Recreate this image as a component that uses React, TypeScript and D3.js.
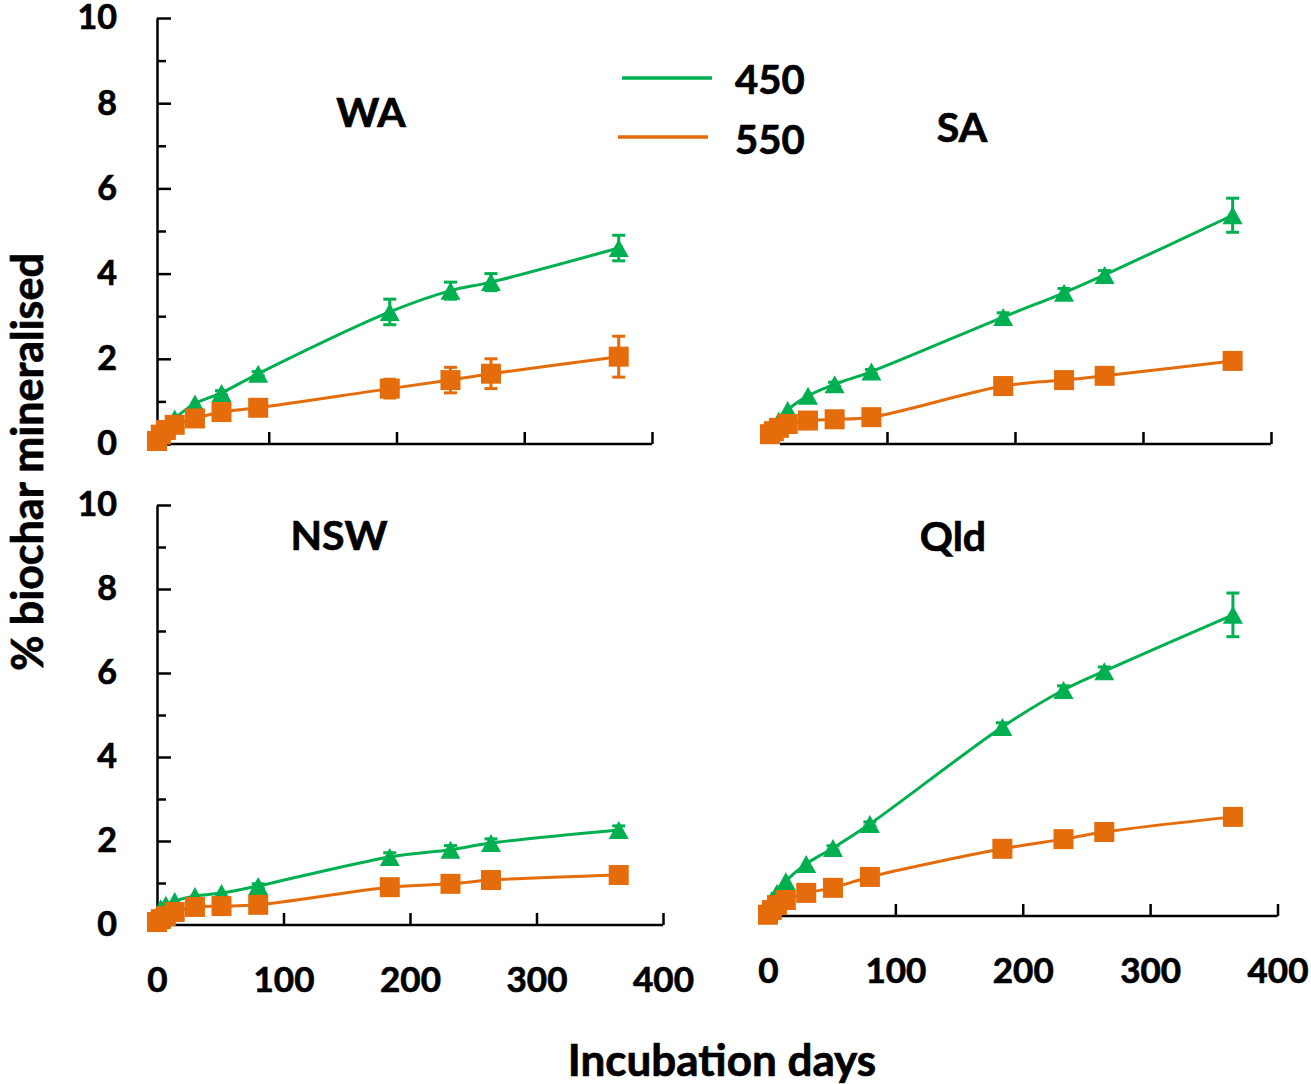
import React, { useRef, useEffect } from "react";
import * as d3 from "d3";

// incubation days at which CO2 was sampled
const days = [0, 3, 7, 14, 30, 51, 80, 184, 232, 264, 365];

const yMajorTicks = [0, 2, 4, 6, 8, 10];
const yMinorTicks = [1, 3, 5, 7, 9];
const xTicks = [0, 100, 200, 300, 400];
const seriesNames = ["450", "550"];

// % biochar mineralised
const wa450 = [0.05, 0.25, 0.4, 0.6, 0.95, 1.2, 1.65, 3.1, 3.6, 3.8, 4.6];
const wa450Err = [0, 0, 0, 0, 0, 0.05, 0.05, 0.3, 0.2, 0.2, 0.3];
const wa550 = [0.07, 0.22, 0.33, 0.45, 0.6, 0.75, 0.85, 1.3, 1.5, 1.65, 2.05];
const wa550Err = [0, 0, 0, 0, 0, 0.05, 0.05, 0.22, 0.3, 0.35, 0.48];

const sa450 = [0.25, 0.4, 0.55, 0.8, 1.13, 1.4, 1.7, 2.98, 3.55, 3.97, 5.37];
const sa450Err = [0, 0, 0, 0, 0, 0.05, 0.05, 0.1, 0.1, 0.1, 0.4];
const sa550 = [0.23, 0.3, 0.38, 0.47, 0.55, 0.58, 0.63, 1.36, 1.5, 1.6, 1.95];
const sa550Err = [0, 0, 0, 0, 0, 0, 0, 0.05, 0.05, 0.05, 0.1];

const nsw450 = [0.1, 0.4, 0.48, 0.57, 0.69, 0.76, 0.93, 1.62, 1.79, 1.95, 2.26];
const nsw450Err = [0, 0, 0, 0, 0, 0, 0.05, 0.1, 0.1, 0.1, 0.1];
const nsw550 = [0.07, 0.14, 0.21, 0.31, 0.43, 0.45, 0.48, 0.9, 0.98, 1.07, 1.19];
const nsw550Err = [0, 0, 0, 0, 0, 0, 0, 0.05, 0.05, 0.05, 0.1];

const qld450 = [0.14, 0.38, 0.55, 0.83, 1.24, 1.62, 2.19, 4.5, 5.38, 5.83, 7.17];
const qld450Err = [0, 0, 0, 0, 0, 0.05, 0.05, 0.1, 0.1, 0.1, 0.52];
const qld550 = [0.03, 0.14, 0.26, 0.38, 0.55, 0.67, 0.93, 1.6, 1.83, 2.0, 2.36];
const qld550Err = [0, 0, 0, 0, 0, 0, 0, 0.05, 0.05, 0.05, 0.1];

const GREEN = "#00B050";
const ORANGE = "#E46C0A";
const FONT = "Lato, 'Open Sans', sans-serif";

// panel layout (pixel placement of each small chart)
const panels = [
  { name: "WA", s450: wa450, e450: wa450Err, s550: wa550, e550: wa550Err,
    xData: [157, 663], xAxis: [141, 652], axisStart: 157, yRange: [444, 18],
    axisY: 444, yAxis: true, xLabels: false, title: [371, 127] },
  { name: "SA", s450: sa450, e450: sa450Err, s550: sa550, e550: sa550Err,
    xData: [770, 1277], xAxis: [759, 1271], axisStart: 780, yRange: [444, 18],
    axisY: 444, yAxis: false, xLabels: false, title: [962, 142] },
  { name: "NSW", s450: nsw450, e450: nsw450Err, s550: nsw550, e550: nsw550Err,
    xData: [157, 663], xAxis: [157, 663], axisStart: 157, yRange: [925, 505],
    axisY: 925, yAxis: true, xLabels: true, title: [339, 550] },
  { name: "Qld", s450: qld450, e450: qld450Err, s550: qld550, e550: qld550Err,
    xData: [768, 1277.5], xAxis: [768, 1277.5], axisStart: 781, yRange: [916, 496],
    axisY: 916, yAxis: false, xLabels: true, title: [953, 551] },
];

// bold text, with a thin outline so it reads as heavy as the original
const boldText = (sel: any, size: number) =>
  sel
    .attr("font-size", size)
    .attr("font-weight", "bold")
    .attr("font-family", FONT)
    .attr("fill", "#000")
    .attr("stroke", "#000")
    .attr("stroke-width", 0.7);

function App() {
  const svgRef = useRef<SVGSVGElement>(null);

  useEffect(() => {
    const svg = d3.select(svgRef.current);
    svg.selectAll("*").remove();

    panels.forEach((p) => {
      const x = d3.scaleLinear().domain([0, 400]).range(p.xData);
      const xa = d3.scaleLinear().domain([0, 400]).range(p.xAxis);
      const y = d3.scaleLinear().domain([0, 10]).range(p.yRange);
      const g = svg.append("g").attr("class", "panel");

      // x axis, ticks pointing up into the plot
      const xAxis = d3
        .axisBottom(xa)
        .tickValues(p.xLabels ? xTicks : xTicks.slice(1))
        .tickSizeInner(-12)
        .tickSizeOuter(0)
        .tickPadding(42)
        .tickFormat(p.xLabels ? d3.format("d") : () => "");
      const gx = g.append("g").attr("transform", `translate(0,${p.axisY})`).call(xAxis);
      gx.select(".domain").remove();
      gx.append("line")
        .attr("x1", p.axisStart)
        .attr("x2", xa(400))
        .attr("stroke", "#000")
        .attr("stroke-width", 2.5);
      gx.selectAll(".tick line").attr("stroke-width", 2.5);
      boldText(gx.selectAll(".tick text"), 35);

      // y axis only on the left column
      if (p.yAxis) {
        const yAxis = d3
          .axisLeft(y)
          .tickValues(yMajorTicks)
          .tickSizeInner(-14)
          .tickSizeOuter(0)
          .tickPadding(40);
        const gy = g.append("g").attr("transform", `translate(${p.xData[0]},0)`).call(yAxis);
        gy.select(".domain").attr("stroke-width", 2.5);
        gy.selectAll(".tick line").attr("stroke-width", 2.5);
        boldText(gy.selectAll(".tick text"), 34);
        const minor = d3.axisLeft(y).tickValues(yMinorTicks).tickSizeInner(-9).tickFormat(() => "");
        const gm = g.append("g").attr("transform", `translate(${p.xData[0]},0)`).call(minor);
        gm.select(".domain").remove();
        gm.selectAll(".tick line").attr("stroke-width", 2.5);
      }

      const line = d3
        .line<number>()
        .x((_, i) => x(days[i]))
        .y((d) => y(d))
        .curve(d3.curveCatmullRom.alpha(0.5));

      const drawSeries = (vals: number[], errs: number[], color: string, shape: string) => {
        g.append("path")
          .attr("d", line(vals))
          .attr("fill", "none")
          .attr("stroke", color)
          .attr("stroke-width", 3);
        const eb = g.append("g");
        vals.forEach((v, i) => {
          if (!errs[i]) return;
          const cx = x(days[i]);
          const y1 = y(v + errs[i]);
          const y2 = y(v - errs[i]);
          eb.append("line").attr("x1", cx).attr("x2", cx).attr("y1", y1).attr("y2", y2)
            .attr("stroke", color).attr("stroke-width", 3);
          [y1, y2].forEach((yy) =>
            eb.append("line").attr("x1", cx - 6.5).attr("x2", cx + 6.5).attr("y1", yy).attr("y2", yy)
              .attr("stroke", color).attr("stroke-width", 3)
          );
        });
        const m = g.append("g");
        if (shape === "triangle") {
          m.selectAll("path")
            .data(vals)
            .join("path")
            .attr("transform", (d, i) => `translate(${x(days[i])},${y(d)})`)
            .attr("d", "M0,-9L10,9L-10,9Z")
            .attr("fill", color);
        } else {
          m.selectAll("rect")
            .data(vals)
            .join("rect")
            .attr("x", (_, i) => x(days[i]) - 10)
            .attr("y", (d) => y(d) - 10)
            .attr("width", 20)
            .attr("height", 20)
            .attr("fill", color);
        }
      };

      drawSeries(p.s450, p.e450, GREEN, "triangle");
      drawSeries(p.s550, p.e550, ORANGE, "square");

      boldText(
        g.append("text")
          .attr("x", p.title[0])
          .attr("y", p.title[1])
          .attr("text-anchor", "middle"),
        41
      ).text(p.name);
    });

    // legend
    const legend = svg.append("g");
    const legendRows = [
      { label: seriesNames[0], color: GREEN, x1: 622, x2: 712, y: 78, ty: 94 },
      { label: seriesNames[1], color: ORANGE, x1: 618, x2: 708, y: 137, ty: 154 },
    ];
    legendRows.forEach((r) => {
      legend.append("line").attr("x1", r.x1).attr("x2", r.x2).attr("y1", r.y).attr("y2", r.y)
        .attr("stroke", r.color).attr("stroke-width", 3.5);
      boldText(legend.append("text").attr("x", 735).attr("y", r.ty), 40).text(r.label);
    });

    // axis titles
    boldText(
      svg.append("text")
        .attr("transform", "translate(43,462) rotate(-90)")
        .attr("text-anchor", "middle"),
      43
    ).text("% biochar mineralised");
    boldText(
      svg.append("text")
        .attr("x", 722)
        .attr("y", 1076)
        .attr("text-anchor", "middle"),
      44
    ).text("Incubation days");
  }, []);

  return (
    <div style={{ position: "absolute", left: 0, top: 0 }}>
      <svg ref={svgRef} width={1311} height={1084} style={{ display: "block", background: "#fff" }} />
    </div>
  );
}

export default App;
